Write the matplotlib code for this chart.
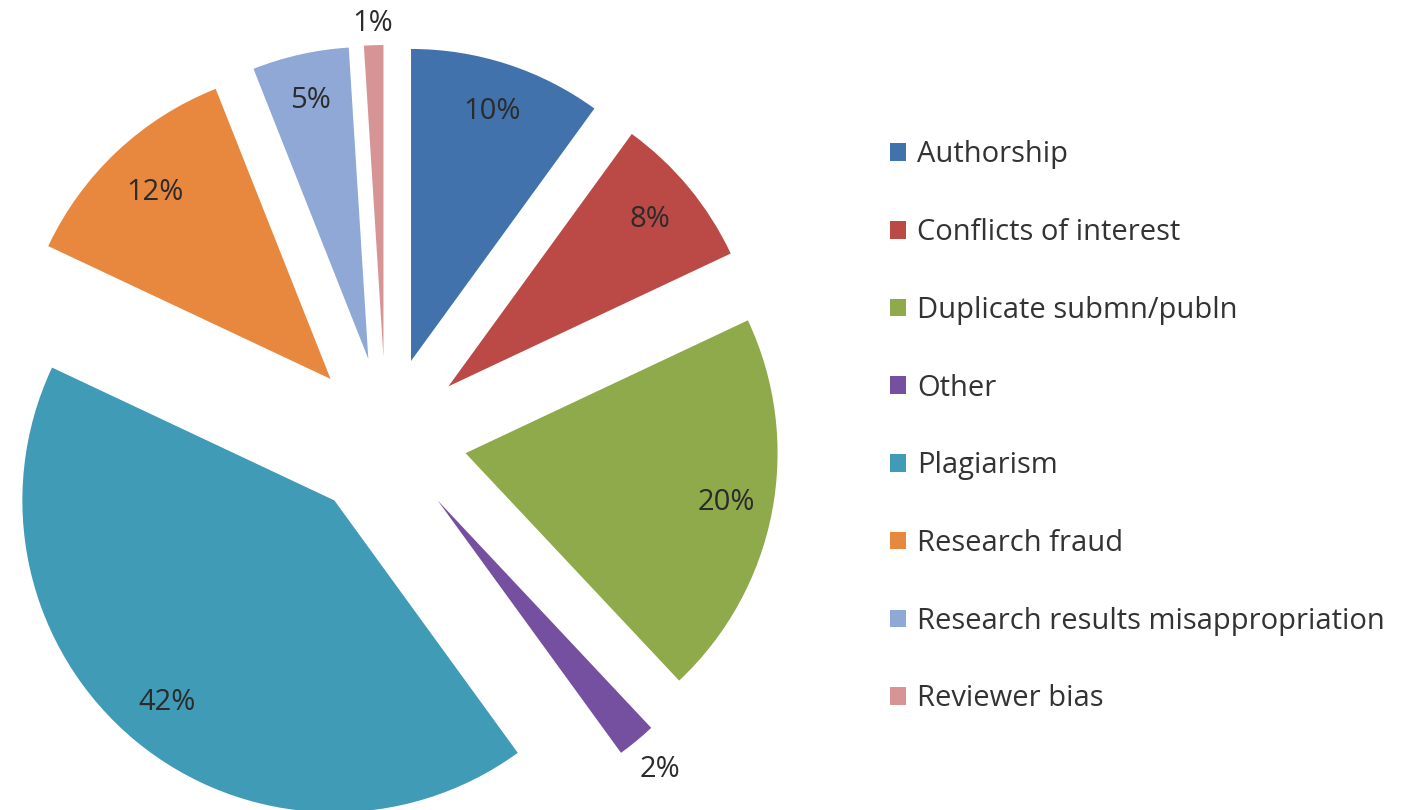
import numpy as np
import matplotlib
matplotlib.use("Agg")
import matplotlib.pyplot as plt

categories = ["Authorship", "Conflicts of interest", "Duplicate submn/publn", "Other",
              "Plagiarism", "Research fraud", "Research results misappropriation", "Reviewer bias"]
shares = [10, 8, 20, 2, 42, 12, 5, 1]
pct_labels = ["10%", "8%", "20%", "2%", "42%", "12%", "5%", "1%"]

colors = ["#4172AC", "#BB4A47", "#8EAA4A", "#7650A0", "#3F9BB6", "#E8883E", "#8FA8D5", "#D79494"]
# radial position of each % label (fraction of the radius)
label_dist = [0.84, 0.84, 0.85, 1.12, 0.84, 0.82, 0.85, 1.07]

plt.rcParams['font.family'] = ['Open Sans', 'DejaVu Sans']

W, H = 1407, 810
fig = plt.figure(figsize=(W / 100, H / 100), dpi=100)
ax = fig.add_axes([0, 0, 1, 1])

R = 312
wedges, _ = ax.pie(shares, colors=colors, startangle=90, counterclock=False,
                   explode=[81] * len(shares), radius=R, center=(386, H - 438),
                   wedgeprops=dict(linewidth=0))
ax.set_xlim(0, W)
ax.set_ylim(0, H)
ax.axis('off')

for w, lab, d in zip(wedges, pct_labels, label_dist):
    th = np.deg2rad((w.theta1 + w.theta2) / 2)
    cx, cy = w.center
    ax.text(cx + d * R * np.cos(th), cy + d * R * np.sin(th), lab,
            ha='center', va='center', fontsize=21, color='#2b2b2b')

fig.legend(wedges, categories, loc='upper left', bbox_to_anchor=(0.624, 0.841),
           frameon=False, fontsize=21, handlelength=0.55, handleheight=0.55,
           handletextpad=0.4, labelspacing=1.67, borderaxespad=0,
           labelcolor='#333333')

fig.savefig("out.png", dpi=100, facecolor='white')
